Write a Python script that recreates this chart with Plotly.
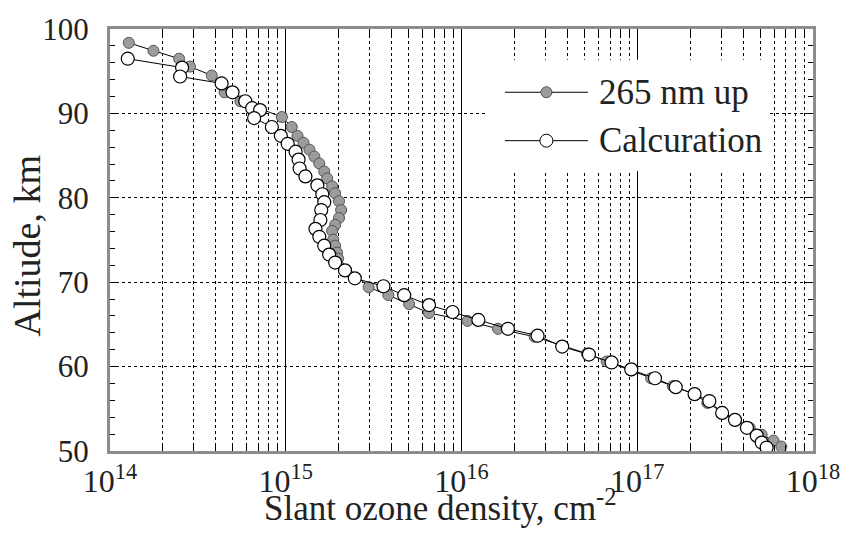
import plotly.graph_objects as go

# 265 nm up (filled): log10 slant density, altitude km
up_log = [14.107, 14.247, 14.393, 14.455, 14.579, 14.652, 14.742, 14.978, 15.034, 15.067,
          15.101, 15.135, 15.163, 15.191, 15.219, 15.236, 15.264, 15.281, 15.303, 15.315,
          15.303, 15.281, 15.264, 15.270, 15.281, 15.292, 15.298, 15.472, 15.584, 15.702,
          15.815, 16.034, 16.208, 16.416, 16.713, 16.826, 16.966, 17.079, 17.202, 17.326,
          17.399, 17.483, 17.562, 17.640, 17.708, 17.775, 17.820]
up_alt = [98.36, 97.42, 96.48, 95.55, 94.49, 92.5, 91.44, 89.57, 88.39, 87.34,
          86.52, 85.70, 84.88, 84.06, 83.12, 82.30, 81.36, 80.54, 79.60, 78.55,
          77.61, 76.79, 76.08, 75.03, 74.33, 73.51, 72.8, 69.40, 68.46, 67.41,
          66.35, 65.42, 64.48, 63.54, 61.55, 60.61, 59.55, 58.62, 57.68, 56.74,
          55.69, 54.63, 53.69, 52.75, 51.93, 51.23, 50.53]

# Calcuration (open)
calc_log = [14.101, 14.410, 14.399, 14.635, 14.697, 14.770, 14.809, 14.854, 14.820, 14.921,
            14.972, 15.011, 15.056, 15.073, 15.079, 15.112, 15.180, 15.208, 15.219, 15.202,
            15.197, 15.169, 15.191, 15.219, 15.247, 15.281, 15.337, 15.393, 15.556, 15.674,
            15.815, 15.949, 16.096, 16.264, 16.433, 16.573, 16.725, 16.854, 16.966, 17.101,
            17.219, 17.326, 17.410, 17.483, 17.556, 17.624, 17.680, 17.708, 17.736]
calc_alt = [96.48, 95.43, 94.37, 93.55, 92.50, 91.44, 90.62, 90.39, 89.45, 88.39,
            87.34, 86.40, 85.46, 84.53, 83.47, 82.53, 81.48, 80.42, 79.48, 78.55,
            77.37, 76.32, 75.38, 74.33, 73.27, 72.33, 71.40, 70.46, 69.52, 68.46,
            67.29, 66.47, 65.53, 64.48, 63.66, 62.37, 61.43, 60.49, 59.67, 58.62,
            57.56, 56.74, 55.92, 54.51, 53.69, 52.75, 51.82, 51.00, 50.41]

x_tick_exp = [14, 15, 16, 17, 18]
y_ticks = [50, 60, 70, 80, 90, 100]
series_names = ["265 nm up", "Calcuration"]

FONT = "Liberation Serif"

up_x = [10 ** v for v in up_log]
calc_x = [10 ** v for v in calc_log]

fig = go.Figure()
fig.add_trace(go.Scatter(
    x=up_x, y=up_alt, mode="lines+markers", name=series_names[0], showlegend=False,
    line=dict(color="black", width=1),
    marker=dict(size=11, color="#9c9c9c", line=dict(color="#555555", width=1))))
fig.add_trace(go.Scatter(
    x=calc_x, y=calc_alt, mode="lines+markers", name=series_names[1], showlegend=False,
    line=dict(color="black", width=1),
    marker=dict(size=13, color="white", line=dict(color="black", width=1.2))))

fig.update_xaxes(
    type="log", range=[14, 18],
    tickvals=[10 ** e for e in x_tick_exp],
    ticktext=["10<sup>%d</sup>" % e for e in x_tick_exp],
    showgrid=True, gridcolor="black", gridwidth=1,
    ticks="inside", ticklen=8, tickcolor="black",
    showline=True, linecolor="#8c8c8c", linewidth=3, mirror="allticks",
    zeroline=False,
    minor=dict(dtick="D1", showgrid=True, griddash="dot", gridcolor="black", gridwidth=1,
               ticks="inside", ticklen=6, tickcolor="black"),
    tickfont=dict(family=FONT, size=32, color="#222"),
)
fig.update_yaxes(
    range=[50, 100], tickvals=y_ticks,
    showgrid=True, gridcolor="black", gridwidth=1, griddash="dot",
    ticks="inside", ticklen=8, tickcolor="black",
    showline=True, linecolor="#8c8c8c", linewidth=3, mirror="allticks",
    zeroline=False,
    minor=dict(dtick=2, ticks="inside", ticklen=5, tickcolor="black", showgrid=False),
    tickfont=dict(family=FONT, size=31, color="#222"),
    ticklabelstandoff=12,
)

L, R, T, B = 110, 30, 24, 86
W, H = 852, 537
pw, ph = W - L - R, H - T - B

def px(xp):
    return (xp - L) / pw

def py(yp):
    return (H - B - yp) / ph

shapes = [dict(type="rect", xref="paper", yref="paper", x0=px(490), x1=px(778),
               y0=py(168), y1=py(55), fillcolor="white", line=dict(width=0), layer="above")]
annotations = []
rows = [(88, "#9c9c9c", "#555555", 11), (137, "white", "black", 13)]
for (yy, fc, lc, sz), name in zip(rows, series_names):
    shapes.append(dict(type="line", xref="paper", yref="paper", x0=px(510), x1=px(594),
                       y0=py(yy), y1=py(yy), line=dict(color="black", width=1), layer="above"))
    shapes.append(dict(type="circle", xref="paper", yref="paper", xsizemode="pixel",
                       ysizemode="pixel", xanchor=px(552), yanchor=py(yy),
                       x0=-sz / 2, x1=sz / 2, y0=-sz / 2, y1=sz / 2,
                       fillcolor=fc, line=dict(color=lc, width=1), layer="above"))
    annotations.append(dict(xref="paper", yref="paper", x=px(603), y=py(yy), text=name,
                            showarrow=False, xanchor="left", yanchor="middle",
                            font=dict(family=FONT, size=35, color="#222")))

annotations.append(dict(xref="paper", yref="paper", x=px(445), y=py(506),
                        text="Slant ozone density, cm<sup>-2</sup>", showarrow=False,
                        xanchor="center", yanchor="middle",
                        font=dict(family=FONT, size=35, color="#222")))
annotations.append(dict(xref="paper", yref="paper", x=px(26), y=py(243),
                        text="Altiude, km", showarrow=False, textangle=-90,
                        xanchor="center", yanchor="middle",
                        font=dict(family=FONT, size=38, color="#222")))

fig.update_layout(
    width=W, height=H, margin=dict(l=L, r=R, t=T, b=B),
    paper_bgcolor="white", plot_bgcolor="white",
    font=dict(family=FONT, color="#222"),
    shapes=shapes, annotations=annotations, showlegend=False,
)
fig.write_html("out.html")
